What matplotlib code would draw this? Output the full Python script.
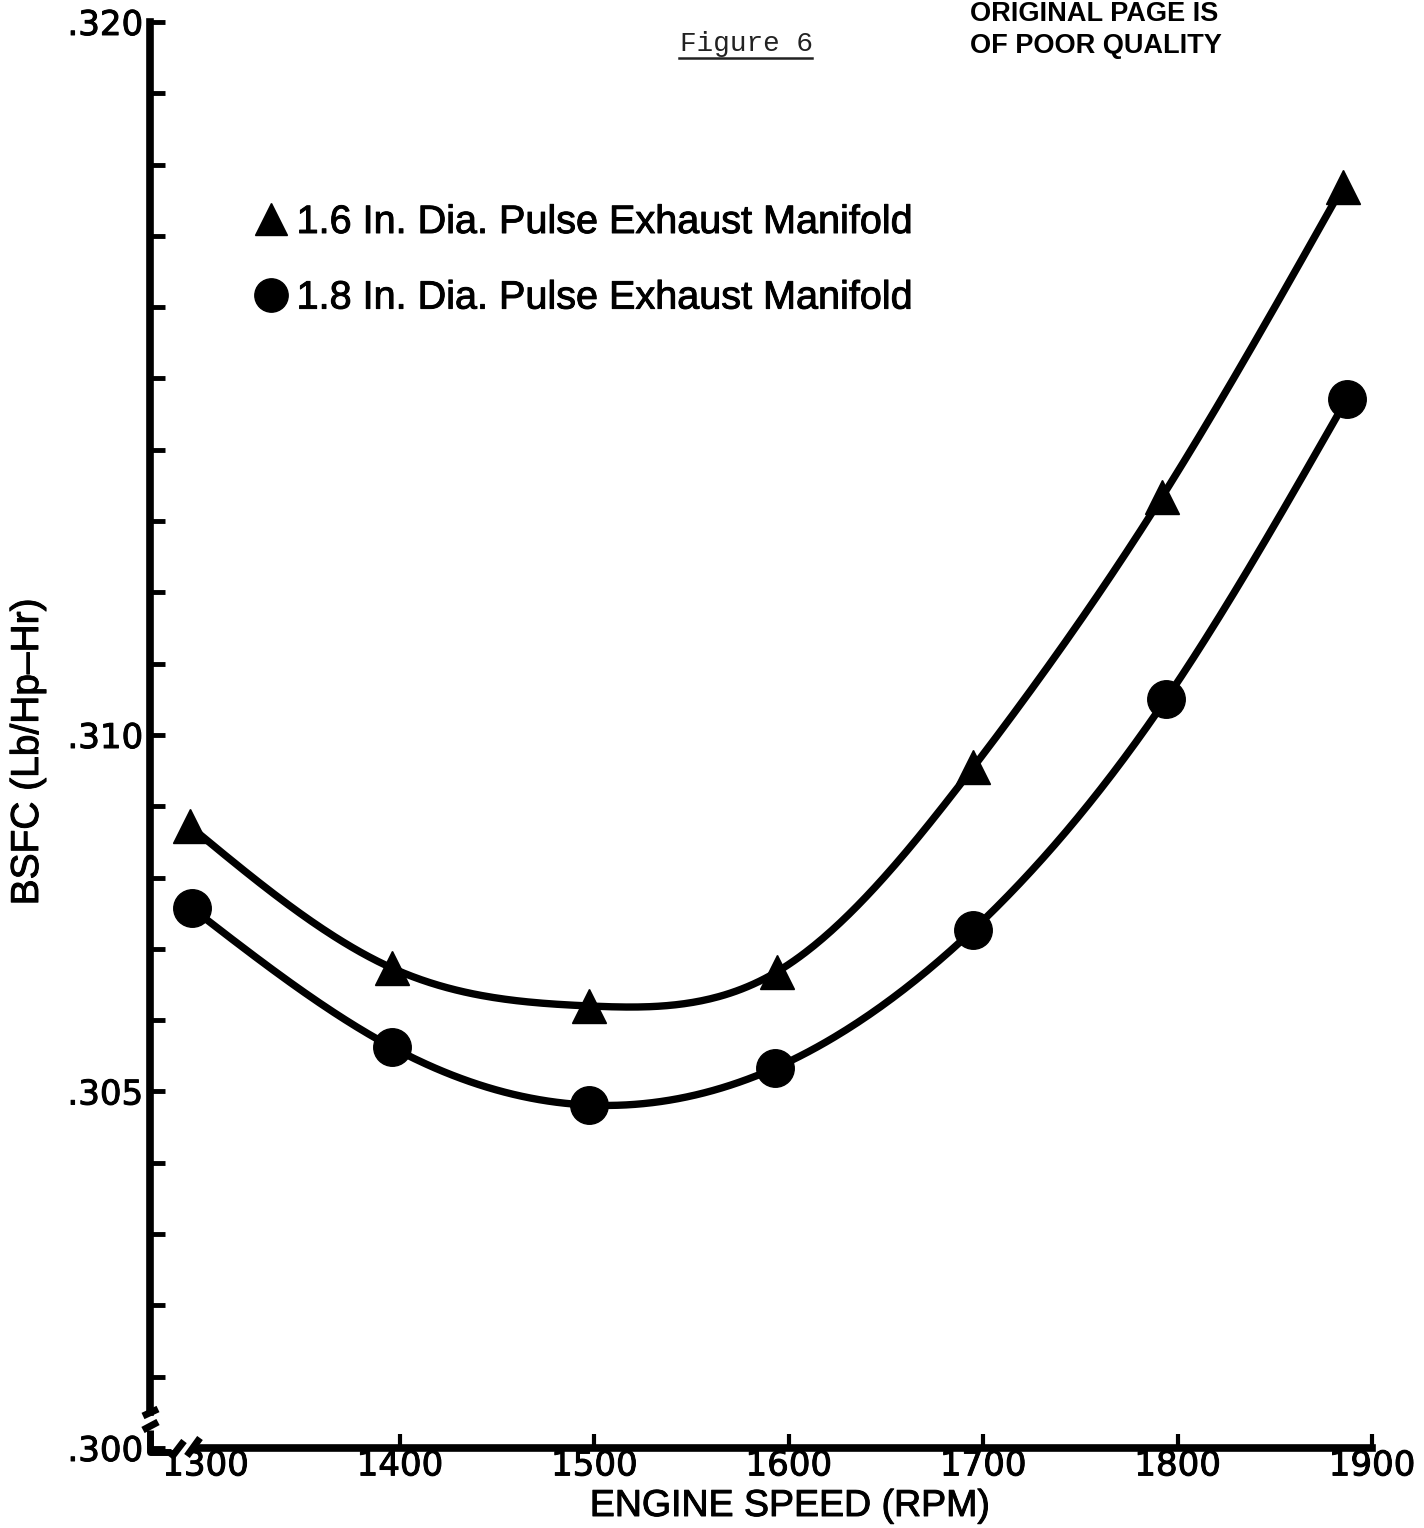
import numpy as np
import matplotlib
matplotlib.use('Agg')
import matplotlib.pyplot as plt
import matplotlib.patheffects as pe
from matplotlib.lines import Line2D

# BSFC vs engine speed for the two pulse exhaust manifolds
rpm_16 = [1292, 1396, 1497, 1594, 1695, 1792, 1885]
bsfc_16 = [0.30872, 0.30673, 0.30620, 0.30668, 0.30955, 0.31334, 0.31769]
rpm_18 = [1293, 1396, 1497, 1593, 1695, 1794, 1887]
bsfc_18 = [0.30757, 0.30562, 0.30481, 0.30533, 0.30727, 0.31050, 0.31471]

label_16 = '1.6 In. Dia. Pulse Exhaust Manifold'
label_18 = '1.8 In. Dia. Pulse Exhaust Manifold'

x_ticks = [1300, 1400, 1500, 1600, 1700, 1800, 1900]
y_ticks = [round(0.300 + 0.001 * i, 3) for i in range(21)]
y_named = {0.300: '.300', 0.305: '.305', 0.310: '.310', 0.320: '.320'}


def smooth(x, y, n=400):
    # natural cubic spline through the measured points
    x = np.asarray(x, float)
    y = np.asarray(y, float)
    k = len(x)
    h = np.diff(x)
    A = np.zeros((k, k))
    b = np.zeros(k)
    A[0, 0] = A[-1, -1] = 1.0
    for i in range(1, k - 1):
        A[i, i - 1] = h[i - 1]
        A[i, i] = 2 * (h[i - 1] + h[i])
        A[i, i + 1] = h[i]
        b[i] = 6 * ((y[i + 1] - y[i]) / h[i] - (y[i] - y[i - 1]) / h[i - 1])
    M = np.linalg.solve(A, b)
    xs = np.linspace(x[0], x[-1], n)
    j = np.clip(np.searchsorted(x, xs) - 1, 0, k - 2)
    t0 = x[j + 1] - xs
    t1 = xs - x[j]
    hj = h[j]
    ys = (M[j] * t0 ** 3 + M[j + 1] * t1 ** 3) / (6 * hj) \
        + (y[j] / hj - M[j] * hj / 6) * t0 + (y[j + 1] / hj - M[j + 1] * hj / 6) * t1
    return xs, ys


# slightly heavier strokes on the lettering
heavy = [pe.withStroke(linewidth=0.7, foreground='black')]

W, H = 1424, 1528
fig = plt.figure(figsize=(W / 100, H / 100), dpi=100)
fig.patch.set_facecolor('white')

L, R, T, B = 150, 1372, 22, 1448
ax = fig.add_axes([L / W, (H - B) / H, (R - L) / W, (B - T) / H])

x0 = 1300 - (205.5 - L) / ((R - 205.5) / 600)
ax.set_xlim(x0, 1900)
ax.set_ylim(0.300, 0.320)

for xs_, ys_ in [(rpm_16, bsfc_16), (rpm_18, bsfc_18)]:
    sx, sy = smooth(xs_, ys_)
    ax.plot(sx, sy, color='black', lw=5.3, solid_capstyle='round', zorder=2)

tri, = ax.plot(rpm_16, bsfc_16, ls='none', marker='^', ms=25, color='black',
               mec='black', zorder=3, clip_on=False)
dot, = ax.plot(rpm_18, bsfc_18, ls='none', marker='o', ms=27, color='black',
               mec='black', zorder=3, clip_on=False)

# axes with break marks at the origin
for s in ['top', 'right']:
    ax.spines[s].set_visible(False)
ax.spines['left'].set_linewidth(5.5)
ax.spines['bottom'].set_linewidth(5.5)
ax.spines['left'].set_bounds(0.3005, 0.320)
ax.spines['bottom'].set_bounds(1296, 1900)


def px(x, y):
    return (x - L) / (R - L), (B - y) / (B - T)


brk = dict(color='black', lw=5, transform=ax.transAxes, clip_on=False,
           solid_capstyle='butt')
for seg in [[(150, 1430), (150, 1452), (171, 1452)],
            [(143, 1416), (158, 1409)],
            [(143, 1430), (158, 1422)],
            [(171, 1458), (184, 1441)],
            [(187, 1456), (200, 1438)]]:
    pts = [px(*p) for p in seg]
    ax.plot([p[0] for p in pts], [p[1] for p in pts], **brk)

ax.set_yticks(y_ticks)
ax.set_yticklabels([y_named.get(v, '') for v in y_ticks])
ax.set_xticks(x_ticks)
ax.set_xticklabels([str(v) for v in x_ticks])
ax.xaxis.get_major_ticks()[0].tick1line.set_visible(False)
ax.tick_params(axis='y', direction='in', length=11, width=3.5, pad=5,
               labelsize=24.5, colors='black')
ax.tick_params(axis='x', direction='in', length=10, width=3, pad=1,
               labelsize=24.5, colors='black')
for lab in ax.get_xticklabels() + ax.get_yticklabels():
    lab.set_family('DejaVu Sans')
    lab.set_path_effects(heavy)

fig.text(790 / W, 1 - 1506 / H, 'ENGINE SPEED (RPM)', ha='center', va='center',
         fontsize=27, family='Liberation Sans', path_effects=heavy)
fig.text(28 / W, 1 - 752 / H, 'BSFC (Lb/Hp\u2013Hr)', ha='center', va='center',
         rotation=90, fontsize=28, family='Liberation Sans', path_effects=heavy)

h_tri = Line2D([], [], ls='none', marker='^', ms=23, color='black')
h_dot = Line2D([], [], ls='none', marker='o', ms=24, color='black')
leg = fig.legend([h_tri, h_dot], [label_16, label_18], loc='upper left',
                 bbox_to_anchor=(257 / W, 1 - 203 / H), frameon=False,
                 prop={'family': 'Liberation Sans', 'size': 28.5},
                 handlelength=0.7, handletextpad=0.3, labelspacing=0.95,
                 borderpad=0, borderaxespad=0)
for t in leg.get_texts():
    t.set_path_effects(heavy)

# page header
fig.text(680 / W, 1 - 51 / H, 'Figure 6', ha='left', va='baseline',
         fontsize=20, family='Liberation Mono', color='#222222')
fig.add_artist(Line2D([679 / W, 812 / W], [1 - 58 / H, 1 - 58 / H],
                      color='#222222', lw=1.8))
fig.text(970 / W, 1 - 21 / H, 'ORIGINAL PAGE IS', ha='left', va='baseline',
         fontsize=19.5, family='Liberation Sans', weight='bold')
fig.text(970 / W, 1 - 53 / H, 'OF POOR QUALITY', ha='left', va='baseline',
         fontsize=19.5, family='Liberation Sans', weight='bold')

fig.savefig('out.png', dpi=100, facecolor='white')
